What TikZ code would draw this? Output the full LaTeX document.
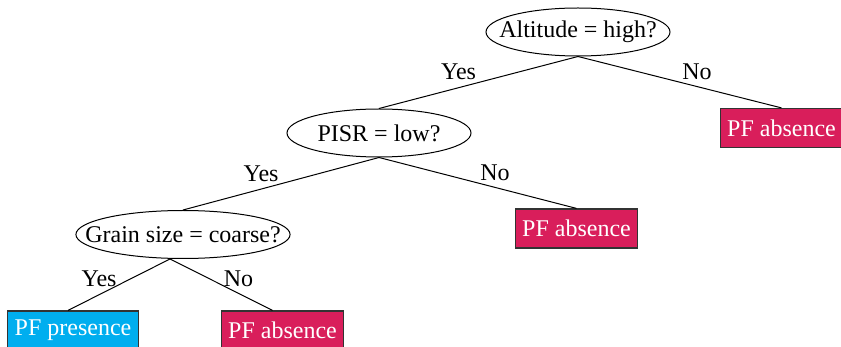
\documentclass[tikz,border=0pt]{standalone}
\usepackage{fontspec}
\setmainfont{Liberation Serif}
\usepackage{tikz}
\usetikzlibrary{positioning,shapes.geometric}
\definecolor{pfBlue}{HTML}{00AEEF}
\definecolor{pfRed}{HTML}{D91E5B}
\definecolor{pfEdge}{HTML}{333333}
\tikzset{
  test/.style={ellipse, draw, line width=0.5pt, inner xsep=-11pt, inner ysep=0pt, minimum width=92pt, minimum height=24pt},
  leaf/.style={rectangle, draw=pfEdge, line width=0.6pt, text=white, inner xsep=3.5pt, inner ysep=0pt, minimum height=19.5pt},
  presence/.style={leaf, fill=pfBlue},
  absence/.style={leaf, fill=pfRed},
  branch/.style={line width=0.5pt},
  yes/.style={midway, above left, inner sep=1pt},
  no/.style={midway, above right, inner sep=1pt}
}

\begin{document}
\begin{tikzpicture}[x=0.5pt, y=-0.5pt, on grid, font=\fontsize{12}{14.4}\selectfont]
  \useasboundingbox (0,0) rectangle (841,347);

  \node[test] (alt) at (578,32) {Altitude = high?};
  \node[test, below left=50.5pt and 99.5pt of alt] (pisr) {PISR = low?};
  \node[absence, below right=48pt and 101.75pt of alt] (absA) {PF absence};
  \node[test, below left=50.75pt and 98pt of pisr] (grain) {Grain size = coarse?};
  \node[absence, below right=47.75pt and 98.75pt of pisr] (absB) {PF absence};
  \node[presence, below left=48pt and 55pt of grain] (pres) {PF presence};
  \node[absence, below right=48pt and 49.75pt of grain] (absC) {PF absence};

  \draw[branch] (alt.south) -- node[yes] {Yes} (pisr.north);
  \draw[branch] (alt.south) -- node[no] {No} (absA.north);
  \draw[branch] (pisr.south) -- node[yes] {Yes} (grain.north);
  \draw[branch] (pisr.south) -- node[no] {No} (absB.north);
  % last split leaves the ellipse a little left of centre
  \draw[branch] ([xshift=-6.5pt]grain.south) -- node[yes, yshift=-2.5pt] {Yes} ([xshift=-2.5pt]pres.north);
  \draw[branch] ([xshift=-6.5pt]grain.south) -- node[no, yshift=-2.5pt] {No} ([xshift=-5pt]absC.north);
\end{tikzpicture}
\end{document}
